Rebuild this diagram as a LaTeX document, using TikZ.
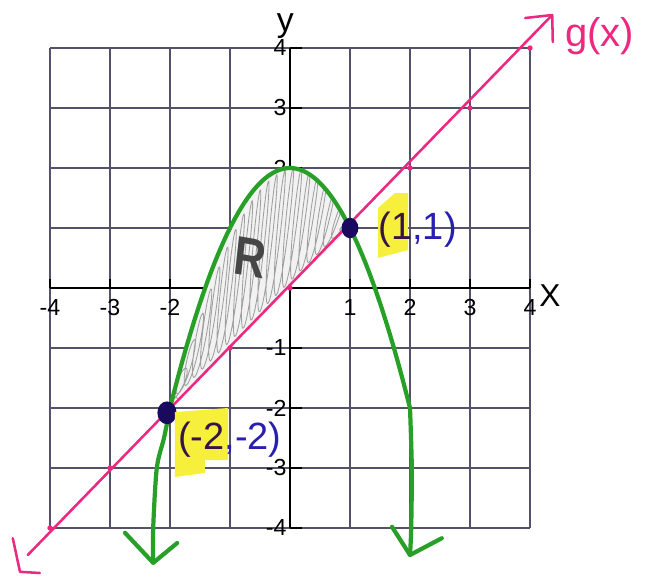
\documentclass[tikz,border=0pt]{standalone}
\usepackage{fontspec}
\setmainfont{Liberation Sans}
\definecolor{gridc}{RGB}{84,82,104}
\definecolor{pinkc}{RGB}{236,40,128}
\definecolor{greenc}{RGB}{40,160,40}
\definecolor{bluec}{RGB}{40,30,175}
\definecolor{darkc}{RGB}{55,20,70}
\definecolor{hilite}{RGB}{246,240,60}
\definecolor{dotc}{RGB}{25,10,95}
\definecolor{rgray}{RGB}{70,70,70}
\begin{document}
\begin{tikzpicture}[x=1cm,y=1cm,
  gridline/.style={draw=gridc, line width=0.7pt},
  axisline/.style={draw=black, line width=1pt},
  ticklabel/.style={font=\fontsize{11}{12}\selectfont, inner sep=0pt},
  gline/.style={draw=pinkc, line width=1.2pt, line cap=round, line join=round},
  fline/.style={draw=greenc, line width=2pt, line cap=round, line join=round},
  pinkdot/.style={fill=pinkc},
  ptdot/.style={fill=dotc},
  handlabel/.style={font=\fontsize{18}{20}\selectfont, inner sep=0pt},
  scribble/.style={draw=gray!75, line width=0.4pt},
  declare function={P(\t)=2-\t*\t;}
]
\useasboundingbox (-4.8333,-4.8833) rectangle (6.1667,4.8);

% grid and axes
\draw[gridline] (-4,-4) grid (4,4);
\draw[axisline] (-4,0) -- (4,0);
\draw[axisline] (0,-4) -- (0,4);
\foreach \i in {-4,...,4} {
  \draw[axisline] (\i,0) -- (\i,0.15);
  \draw[axisline] (0,\i) -- (0.2,\i);
}
\foreach \i [count=\k] in {-4,-3,-2,-1,1,2,3,4} {
  \node[ticklabel] (xl\k) at (\i,-0.32) {\i};
  \node[ticklabel, anchor=east] (yl\k) at (-0.05,\i) {\i};
}

% shaded region R
\fill[gray!10] plot[domain=-2:1, samples=40] (\x,{P(\x)}) -- cycle;
\begin{scope}
  \clip plot[domain=-2:1, samples=40] (\x,{P(\x)}) -- cycle;
  \draw[scribble] plot[domain=0:1, samples=700, variable=\t]
    ({-2+3*\t + 0.06*cos(7920*\t) + 0.22*(0.5+0.5*sin(7920*\t)-0.5)},
     {(-2+3*\t) + (P(-2+3*\t)-(-2+3*\t))*(0.5+0.5*sin(7920*\t))});
\end{scope}

% g(x) = x line
\coordinate (pb) at (-4.37,-4.45);
\coordinate (pt) at (4.37,4.55);
\draw[gline] (pb) -- (pt);
\draw[gline] (3.92,4.5) -- (pt) -- (4.38,4.1);
\draw[gline] (-4.62,-4.17) -- (-4.5,-4.73) -- (-4.17,-4.75);
\foreach \i in {-4,-3,-1,0,2,3,4} \fill[pinkdot] (\i,\i) circle (0.045);

% parabola
\coordinate (gl) at (-2.28,-4.58);
\coordinate (gr) at (2.0,-4.45);
\draw[fline] plot[smooth] coordinates {(gl) (-2.28,-4) (-2.22,-3) (-2.1,-2.5) (-2,-2)}
  -- plot[domain=-2:2, samples=60] (\x,{P(\x)})
  -- plot[smooth] coordinates {(2,-2) (2.03,-3) (2.02,-4) (gr)};
\draw[fline] (-2.75,-4.08) -- (gl) -- (-1.88,-4.25);
\draw[fline] (1.7,-3.98) -- (gr) -- (2.53,-4.17);

% intersection points
\fill[ptdot] (1,1) ellipse (0.14 and 0.17);
\fill[ptdot] (-2.05,-2.08) ellipse (0.16 and 0.19);

% highlights
\fill[hilite] (1.467,1.333) -- (1.75,1.583) -- (1.967,1.583) -- (1.967,0.633) -- (1.467,0.5) -- cycle;
\fill[hilite] (-1.917,-2.067) -- (-1.033,-2.0) -- (-1.033,-2.867) -- (-1.417,-2.867) -- (-1.417,-3.083) -- (-1.917,-3.15) -- cycle;

% labels
\node[handlabel, anchor=west] (p1) at (1.47,0.98) {\textcolor{darkc}{(1}\textcolor{bluec}{,1)}};
\node[handlabel, anchor=west] (p2) at (-1.87,-2.53) {\textcolor{darkc}{(-2}\textcolor{bluec}{,-2)}};
\node[handlabel, text=pinkc, anchor=base west, font=\fontsize{19}{21}\selectfont] (gx) at (4.58,4.02) {g(x)};
\node[inner sep=0pt, font=\fontsize{16}{18}\selectfont] (ylab) at (-0.08,4.37) {y};
\node[inner sep=0pt, font=\fontsize{15}{17}\selectfont] (xlab) at (4.33,-0.12) {X};
\node[inner sep=0pt, text=rgray, font=\fontsize{26}{28}\selectfont\bfseries, xscale=0.8, rotate=-8] (rlab) at (-0.67,0.5) {R};
\end{tikzpicture}
\end{document}
